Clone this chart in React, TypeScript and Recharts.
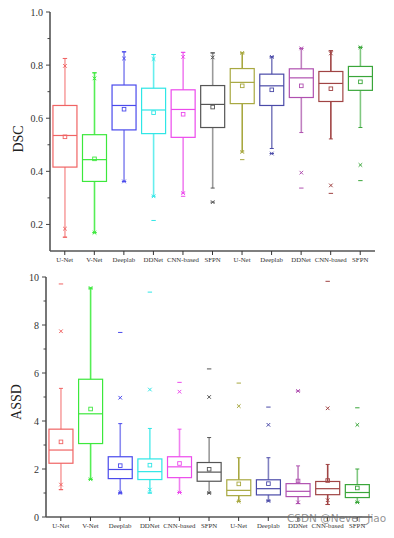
import React from "react";
import { Bar, BarChart, XAxis, YAxis } from "recharts";

const categories = ["U-Net", "V-Net", "Deeplab", "DDNet", "CNN-based", "SFPN", "U-Net", "Deeplab", "DDNet", "CNN-based", "SFPN"];
const boxColors = ["#f06464", "#3ce83c", "#4a4aec", "#2ee6e6", "#ec4aec", "#555555", "#a8a840", "#4a4aa8", "#b050b0", "#a04444", "#3aa63a"];
const whiskerColors = ["#f8a2a2", "#55ee55", "#8a8af0", "#66eeee", "#f080f0", "#9a9a9a", "#a8a840", "#8080c0", "#c080c0", "#a04444", "#80c880"];

// DSC
const dscLow = [0.152, 0.169, 0.362, 0.306, 0.318, 0.337, 0.473, 0.486, 0.546, 0.522, 0.565];
const dscQ1 = [0.416, 0.362, 0.556, 0.542, 0.528, 0.565, 0.655, 0.648, 0.678, 0.663, 0.705];
const dscMed = [0.535, 0.444, 0.648, 0.631, 0.633, 0.652, 0.735, 0.722, 0.752, 0.731, 0.757];
const dscQ3 = [0.648, 0.538, 0.725, 0.713, 0.707, 0.723, 0.787, 0.766, 0.786, 0.776, 0.795];
const dscHigh = [0.825, 0.771, 0.85, 0.84, 0.848, 0.846, 0.846, 0.831, 0.863, 0.854, 0.867];
const dscMean = [0.53, 0.447, 0.634, 0.621, 0.615, 0.642, 0.722, 0.707, 0.722, 0.711, 0.737];
const dscP99 = [0.797, 0.75, 0.825, 0.823, 0.831, 0.829, 0.846, 0.831, 0.863, 0.844, 0.867];
const dscP1 = [0.184, 0.169, 0.362, 0.306, 0.318, 0.284, 0.473, 0.467, 0.395, 0.347, 0.424];
const dscMax = [0.825, 0.771, 0.85, 0.84, 0.848, 0.846, 0.846, 0.831, 0.863, 0.854, 0.867];
const dscMin = [0.152, 0.169, 0.362, 0.215, 0.306, 0.284, 0.444, 0.467, 0.337, 0.317, 0.365];
const dscTicks = [0.2, 0.3, 0.4, 0.5, 0.6, 0.7, 0.8, 0.9, 1.0];

// ASSD
const assdLow = [1.14, 1.57, 1.02, 1.0, 1.02, 1.0, 0.65, 0.67, 0.56, 0.52, 0.61];
const assdQ1 = [2.24, 3.06, 1.6, 1.56, 1.64, 1.49, 0.89, 0.92, 0.85, 0.93, 0.81];
const assdMed = [2.79, 4.3, 1.98, 1.89, 2.09, 1.87, 1.11, 1.18, 1.07, 1.18, 1.02];
const assdQ3 = [3.66, 5.74, 2.51, 2.42, 2.51, 2.27, 1.55, 1.55, 1.39, 1.48, 1.35];
const assdHigh = [5.36, 9.54, 3.89, 3.69, 3.66, 3.31, 2.47, 2.47, 2.13, 2.19, 2.0];
const assdMean = [3.13, 4.5, 2.14, 2.16, 2.23, 1.99, 1.38, 1.39, 1.5, 1.52, 1.21];
const assdP99 = [7.74, 9.54, 4.97, 5.31, 5.22, 5.0, 4.62, 3.84, 5.25, 4.53, 3.84];
const assdP1 = [1.35, 1.57, 1.02, 1.14, 1.02, 1.0, 0.65, 0.67, 0.61, 0.7, 0.61];
const assdMax = [9.71, 9.54, 7.69, 9.37, 5.61, 6.17, 5.58, 4.58, 5.25, 9.82, 4.55];
const assdMin = [1.14, 1.57, 0.97, 1.0, 1.02, 1.0, 0.65, 0.67, 0.56, 0.52, 0.61];
const assdTicks = [0, 1, 2, 3, 4, 5, 6, 7, 8, 9, 10];

function buildRows(low, q1, med, q3, high, mean, p1, p99, min, max) {
  return categories.map((label, i) => ({
    key: String(i),
    label,
    color: boxColors[i],
    whisker: whiskerColors[i],
    low: low[i],
    q1: q1[i],
    med: med[i],
    q3: q3[i],
    high: high[i],
    mean: mean[i],
    p1: p1[i],
    p99: p99[i],
    min: min[i],
    max: max[i],
    box: [q1[i], q3[i]],
  }));
}

const dscRows = buildRows(dscLow, dscQ1, dscMed, dscQ3, dscHigh, dscMean, dscP1, dscP99, dscMin, dscMax);
const assdRows = buildRows(assdLow, assdQ1, assdMed, assdQ3, assdHigh, assdMean, assdP1, assdP99, assdMin, assdMax);

// box drawn from the bar geometry: pixels per unit come from the range bar [q1, q3]
function BoxShape(props: any) {
  const { x, y, width, height, payload: d } = props;
  if (d == null || !height) return null;
  const ppu = height / (d.q3 - d.q1);
  const py = (v: number) => y + (d.q3 - v) * ppu;
  const cx = x + width / 2;
  const c = d.color;
  const cross = (v: number, k: string) => {
    const yy = py(v);
    return (
      <g key={k} stroke={c} strokeWidth={1}>
        <line x1={cx - 1.8} y1={yy - 1.8} x2={cx + 1.8} y2={yy + 1.8} />
        <line x1={cx - 1.8} y1={yy + 1.8} x2={cx + 1.8} y2={yy - 1.8} />
      </g>
    );
  };
  const dash = (v: number, k: string) => (
    <line key={k} x1={cx - 2.2} x2={cx + 2.2} y1={py(v)} y2={py(v)} stroke={c} strokeWidth={1} />
  );
  return (
    <g>
      <line x1={cx} x2={cx} y1={py(d.high)} y2={y} stroke={d.whisker} strokeWidth={1.6} />
      <line x1={cx} x2={cx} y1={y + height} y2={py(d.low)} stroke={d.whisker} strokeWidth={1.6} />
      <line x1={cx - 2} x2={cx + 2} y1={py(d.high)} y2={py(d.high)} stroke={c} strokeWidth={1} />
      <line x1={cx - 2} x2={cx + 2} y1={py(d.low)} y2={py(d.low)} stroke={c} strokeWidth={1} />
      <rect x={x} y={y} width={width} height={height} fill="none" stroke={c} strokeWidth={1.2} />
      <line x1={x} x2={x + width} y1={py(d.med)} y2={py(d.med)} stroke={c} strokeWidth={1.2} />
      <rect x={cx - 1.8} y={py(d.mean) - 1.8} width={3.6} height={3.6} fill="none" stroke={c} strokeWidth={0.9} />
      {cross(d.p99, "p99")}
      {cross(d.p1, "p1")}
      {dash(d.max, "max")}
      {dash(d.min, "min")}
    </g>
  );
}

function makeYTick(isMajor: (v: number) => boolean, fmt: (v: number) => string) {
  return (props: any) => {
    const { x, y, payload } = props;
    const major = isMajor(payload.value);
    return (
      <g>
        <line x1={x - (major ? 4 : 2.5)} x2={x} y1={y} y2={y} stroke="#444" strokeWidth={1} />
        {major && (
          <text x={x - 7} y={y} dy={3.5} textAnchor="end" fontSize={10} fill="#333" fontFamily="Liberation Serif">
            {fmt(payload.value)}
          </text>
        )}
      </g>
    );
  };
}

const dscTick = makeYTick((v) => Math.round(v * 10) % 2 === 0, (v) => v.toFixed(1));
const assdTick = makeYTick((v) => v % 2 === 0, (v) => String(v));

function BoxChart({ rows, height, margin, yWidth, xHeight, domain, ticks, tick }) {
  return (
    <BarChart width={394} height={height} data={rows} margin={margin} barCategoryGap="10%">
      <XAxis
        dataKey="key"
        height={xHeight}
        tickFormatter={(_v: any, i: number) => categories[i]}
        interval={0}
        tickSize={4}
        tickMargin={2}
        tick={{ fontSize: 6.8, fill: "#333", fontFamily: "Liberation Serif" }}
        axisLine={{ stroke: "#555", strokeWidth: 1.6 }}
        tickLine={{ stroke: "#333" }}
      />
      <YAxis
        width={yWidth}
        type="number"
        domain={domain}
        ticks={ticks}
        interval={0}
        allowDataOverflow
        tickSize={0}
        tickMargin={0}
        tickLine={false}
        tick={tick}
        axisLine={{ stroke: "#555", strokeWidth: 1.6 }}
      />
      <Bar dataKey="box" shape={BoxShape} isAnimationActive={false} />
    </BarChart>
  );
}

function AxisTitle({ text, x, y }) {
  return (
    <div
      style={{
        position: "absolute",
        left: x,
        top: y,
        transform: "translate(-50%, -50%) rotate(-90deg)",
        fontSize: 14,
        color: "#222",
        whiteSpace: "nowrap",
      }}
    >
      {text}
    </div>
  );
}

export default function App() {
  return (
    <div style={{ position: "relative", width: 394, height: 538, background: "#fff", fontFamily: "Liberation Serif" }}>
      <style>{"body{margin:0}"}</style>
      <div style={{ position: "absolute", left: 0, top: 0 }}>
        <BoxChart
          rows={dscRows}
          height={268}
          margin={{ top: 12, right: 19, left: 0, bottom: 0 }}
          yWidth={50}
          xHeight={17}
          domain={[0.1, 1.0]}
          ticks={dscTicks}
          tick={dscTick}
        />
      </div>
      <div style={{ position: "absolute", left: 0, top: 268 }}>
        <BoxChart
          rows={assdRows}
          height={270}
          margin={{ top: 9, right: 22, left: 0, bottom: 0 }}
          yWidth={46}
          xHeight={21}
          domain={[0, 10]}
          ticks={assdTicks}
          tick={assdTick}
        />
      </div>
      <AxisTitle text="DSC" x={19} y={139} />
      <AxisTitle text="ASSD" x={17} y={402} />
      <div
        style={{
          position: "absolute",
          left: 287,
          top: 512,
          fontSize: 10.5,
          fontFamily: "DejaVu Sans",
          color: "rgba(110,110,110,0.75)",
          whiteSpace: "nowrap",
        }}
      >
        CSDN @Never_Jiao
      </div>
    </div>
  );
}
